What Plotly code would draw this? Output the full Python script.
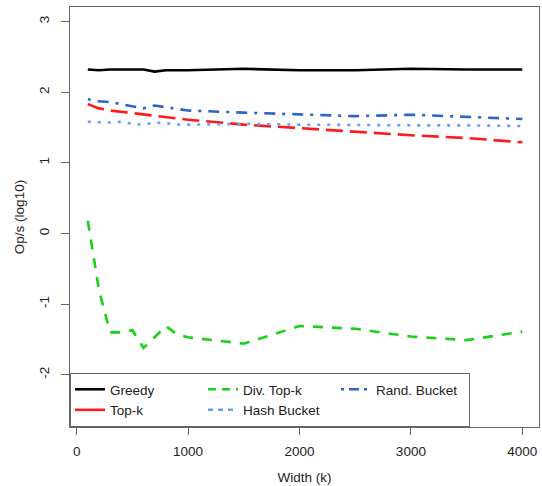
import plotly.graph_objects as go

# ---- data ----
width_k = [100, 200, 300, 400, 500, 600, 700, 800, 900, 1000, 1500, 2000, 2500, 3000, 3500, 4000]

greedy = [2.32, 2.31, 2.32, 2.32, 2.32, 2.32, 2.29, 2.31, 2.31, 2.31, 2.33, 2.31, 2.31, 2.33, 2.32, 2.32]
top_k = [1.83, 1.77, 1.74, 1.72, 1.70, 1.68, 1.66, 1.65, 1.63, 1.61, 1.54, 1.49, 1.43, 1.39, 1.35, 1.29]
div_top_k = [0.18, -0.80, -1.40, -1.40, -1.37, -1.62, -1.47, -1.31, -1.43, -1.47, -1.56, -1.31, -1.35, -1.46, -1.51, -1.39]
hash_bucket = [1.58, 1.57, 1.57, 1.58, 1.55, 1.54, 1.57, 1.56, 1.54, 1.54, 1.55, 1.54, 1.53, 1.53, 1.53, 1.52]
rand_bucket = [1.90, 1.87, 1.86, 1.83, 1.80, 1.77, 1.81, 1.79, 1.76, 1.74, 1.71, 1.69, 1.66, 1.68, 1.65, 1.62]

series_names = ["Greedy", "Top-k", "Div. Top-k", "Hash Bucket", "Rand. Bucket"]
series_values = [greedy, top_k, div_top_k, hash_bucket, rand_bucket]

x_tick_vals = [0, 1000, 2000, 3000, 4000]
x_tick_text = ["0", "1000", "2000", "3000", "4000"]
y_tick_vals = [3, 2, 1, 0, -1, -2]
y_tick_text = ["3", "2", "1", "0", "-1", "-2"]

# ---- styles ----
colors = ["#000000", "#FF1A1A", "#19D119", "#6A9EF0", "#2F63C9"]
plot_dash = ["solid", "17px,7px", "10px,9px", "3px,7px", "3px,7px,11px,7px"]
legend_dash = ["solid", "solid", "8px,6px", "5px,5px", "3px,5px,10px,5px"]
legend_rank = [1, 4, 2, 5, 3]

FONT = "Liberation Sans, Arial, Helvetica, sans-serif"

fig = go.Figure()
for name, vals, c, d in zip(series_names, series_values, colors, plot_dash):
    fig.add_trace(go.Scatter(
        x=width_k, y=vals, mode="lines", name=name, showlegend=False,
        legendgroup=name, line=dict(color=c, width=2.6, dash=d),
    ))
# legend entries (R-style legend line types)
for name, c, d, r in zip(series_names, colors, legend_dash, legend_rank):
    fig.add_trace(go.Scatter(
        x=[None], y=[None], mode="lines", name=name, legendgroup=name,
        legendrank=r, line=dict(color=c, width=2.6, dash=d),
    ))

fig.update_layout(
    width=542, height=486,
    margin=dict(l=70, r=3, t=7, b=59, autoexpand=False),
    paper_bgcolor="white", plot_bgcolor="white",
    font=dict(family=FONT, size=13.5, color="#222222"),
    showlegend=True,
    legend=dict(
        orientation="h", x=0, xanchor="left", y=0, yanchor="bottom",
        bgcolor="white", bordercolor="#666666", borderwidth=1,
        entrywidth=88, font=dict(size=13.5, color="#222222"),
        itemwidth=30, tracegroupgap=0,
    ),
    xaxis=dict(
        range=[-60, 4150], tickvals=x_tick_vals, ticktext=x_tick_text,
        ticks="outside", ticklen=7, tickcolor="#666666", tickwidth=1,
        ticklabelstandoff=5,
        showline=True, linecolor="#666666", linewidth=1, mirror=True,
        showgrid=False, zeroline=False, automargin=False,
        title=dict(text="Width (k)", standoff=14, font=dict(size=13.5)),
    ),
    yaxis=dict(
        range=[-2.74, 3.205], tickvals=y_tick_vals, ticktext=y_tick_text,
        tickangle=-90, ticklabelstandoff=7,
        ticks="outside", ticklen=8, tickcolor="#666666", tickwidth=1,
        showline=True, linecolor="#666666", linewidth=1, mirror=True,
        showgrid=False, zeroline=False, automargin=False,
        title=dict(text="Op/s (log10)", standoff=8, font=dict(size=13.5)),
    ),
)

fig.write_html(
    "out.html",
    config={"displayModeBar": False},
    post_script="document.body.style.margin='0';document.body.style.overflow='hidden';",
)
